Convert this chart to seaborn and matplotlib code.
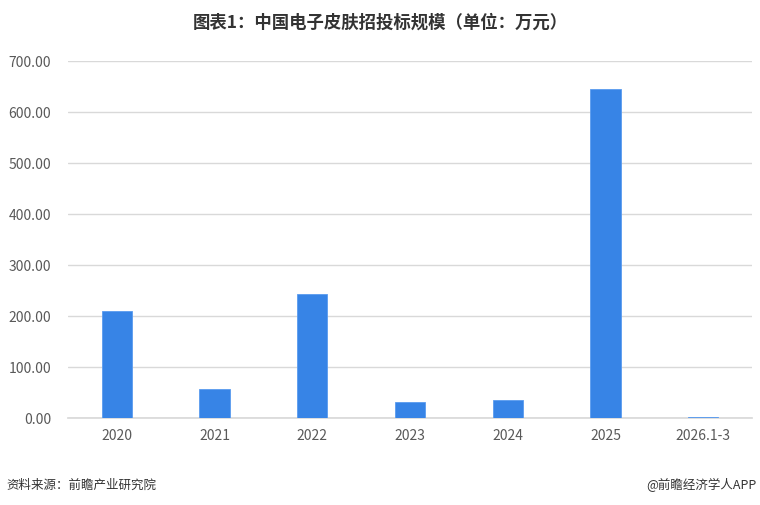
import numpy as np
import pandas as pd
import seaborn as sns
import matplotlib.pyplot as plt

# 数据
years = ['2020', '2021', '2022', '2023', '2024', '2025', '2026.1-3']
scale = [210, 58, 244, 31, 35, 645, 3]

sns.set_theme(style='white')
plt.rcParams['font.family'] = ['Noto Sans CJK SC', 'DejaVu Sans']

df = pd.DataFrame({'year': years, 'value': scale})

fig = plt.figure(figsize=(7.6, 5.05), dpi=100)
ax = fig.add_axes([0.0895, 0.172, 0.9, 0.707])

sns.barplot(data=df, x='year', y='value', color='#3784e6', saturation=1,
            width=0.31, ax=ax, zorder=3, edgecolor='#5a9bef', linewidth=0.6)

ax.set_ylim(0, 700)
ax.set_yticks(np.arange(0, 701, 100))
ax.set_yticklabels([f'{v:.2f}' for v in np.arange(0, 701, 100)])
ax.yaxis.grid(True, color='#d9d9d9', linewidth=1, zorder=0)
ax.set_xlabel('')
ax.set_ylabel('')
for s in ['top', 'right', 'left']:
    ax.spines[s].set_visible(False)
ax.spines['bottom'].set_color('#d9d9d9')
ax.tick_params(axis='both', length=0, labelsize=10, colors='#595959')
ax.tick_params(axis='x', pad=8)
ax.tick_params(axis='y', pad=12)

fig.text(0.5, 0.955, '图表1：中国电子皮肤招投标规模（单位：万元）', ha='center', va='center',
         fontsize=12.5, fontweight='bold', color='#333333')
fig.text(0.008, 0.04, '资料来源：前瞻产业研究院', ha='left', va='center',
         fontsize=9, color='#333333')
fig.text(0.995, 0.04, '@前瞻经济学人APP', ha='right', va='center',
         fontsize=9, color='#333333')

fig.savefig('out.png', dpi=100)
